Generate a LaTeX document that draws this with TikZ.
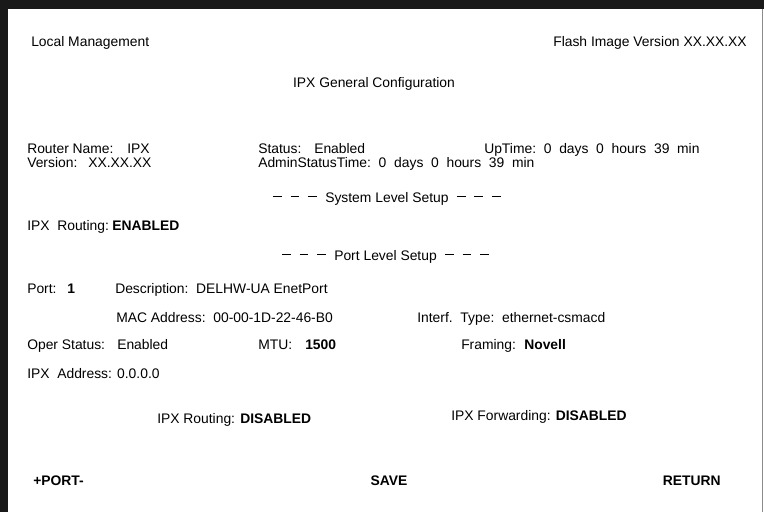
\documentclass[tikz,border=0pt]{standalone}
\usepackage{fontspec}
\setmainfont{Liberation Sans}
\usetikzlibrary{positioning}
\newcommand{\scrdash}{\rule[3.5pt]{6.6pt}{0.65pt}}
\newcommand{\scrgap}{\hspace{6.4pt}}

\begin{document}
\begin{tikzpicture}[
  x=0.75pt, y=-0.75pt,
  txt/.style={anchor=base west, inner sep=0pt, font=\fontsize{10.4}{12}\selectfont},
  txtr/.style={txt, anchor=base east},
  txtc/.style={txt, anchor=base},
  btn/.style={txt, font=\fontsize{10.4}{12}\selectfont\bfseries}
]
\useasboundingbox (0,0) rectangle (764,512);
% screen frame
\fill[black!90] (0,0) rectangle (764,9);
\fill[black!90] (0,0) rectangle (8,512);
\draw[black!45, line width=0.75pt] (762.5,9) -- (762.5,512);

% header
\node[txt] (locmgmt) at (31,46) {Local Management};
\node[txtr] (flash) at (747,46) {Flash Image Version XX.XX.XX};
\node[txtc] (title) at (374,87) {IPX General Configuration};

% router info
\node[txt] (rname) at (27,153) {Router Name:};
\node[txt] (rnameval) at (127,153) {IPX};
\node[txt] (version) at (27,167) {Version:};
\node[txt] (versionval) at (88,167) {XX.XX.XX};
\node[txt] (status) at (258,153) {Status:};
\node[txt] (statusval) at (314,153) {Enabled};
\node[txt] (uptime) at (484,153) {UpTime:\ \ 0\ \ days\ \ 0\ \ hours\ \ 39\ \ min};
\node[txt] (admtime) at (258,167) {AdminStatusTime:\ \ 0\ \ days\ \ 0\ \ hours\ \ 39\ \ min};

% system level
\node[txt] (syshdr) at (273,202) {\scrdash\scrgap\scrdash\scrgap\scrdash\scrgap System Level Setup\scrgap\scrdash\scrgap\scrdash\scrgap\scrdash};
\node[txt] (sysrout) at (27,230) {IPX\ \ Routing:};
\node[btn] (sysroutval) at (112,230) {ENABLED};

% port level
\node[txt] (porthdr) at (282,260) {\scrdash\scrgap\scrdash\scrgap\scrdash\scrgap Port Level Setup\scrgap\scrdash\scrgap\scrdash\scrgap\scrdash};
\node[txt] (port) at (27,293) {Port:};
\node[btn] (portval) at (67,293) {1};
\node[txt] (descr) at (115,293) {Description:\ \ DELHW-UA EnetPort};
\node[txt] (mac) at (116,322) {MAC Address:\ \ 00-00-1D-22-46-B0};
\node[txt] (iftype) at (417,322) {Interf.\ \ Type:\ \ ethernet-csmacd};
\node[txt] (oper) at (27,349) {Oper Status:};
\node[txt] (operval) at (117,349) {Enabled};
\node[txt] (mtu) at (258,349) {MTU:};
\node[btn] (mtuval) at (305,349) {1500};
\node[txt] (framing) at (461,349) {Framing:};
\node[btn] (framingval) at (524,349) {Novell};
\node[txt] (ipxaddr) at (27,378) {IPX\ \ Address: 0.0.0.0};
\node[txt] (portrout) at (157,423) {IPX Routing:};
\node[btn] (portroutval) at (240,423) {DISABLED};
\node[txt] (portfwd) at (451,420) {IPX Forwarding: \textbf{DISABLED}};

% command line
\node[btn] (portcmd) at (33,485) {+PORT-};
\node[btn, anchor=base] (savecmd) at (389,485) {SAVE};
\node[btn, anchor=base east] (retcmd) at (721,485) {RETURN};
\end{tikzpicture}
\end{document}
